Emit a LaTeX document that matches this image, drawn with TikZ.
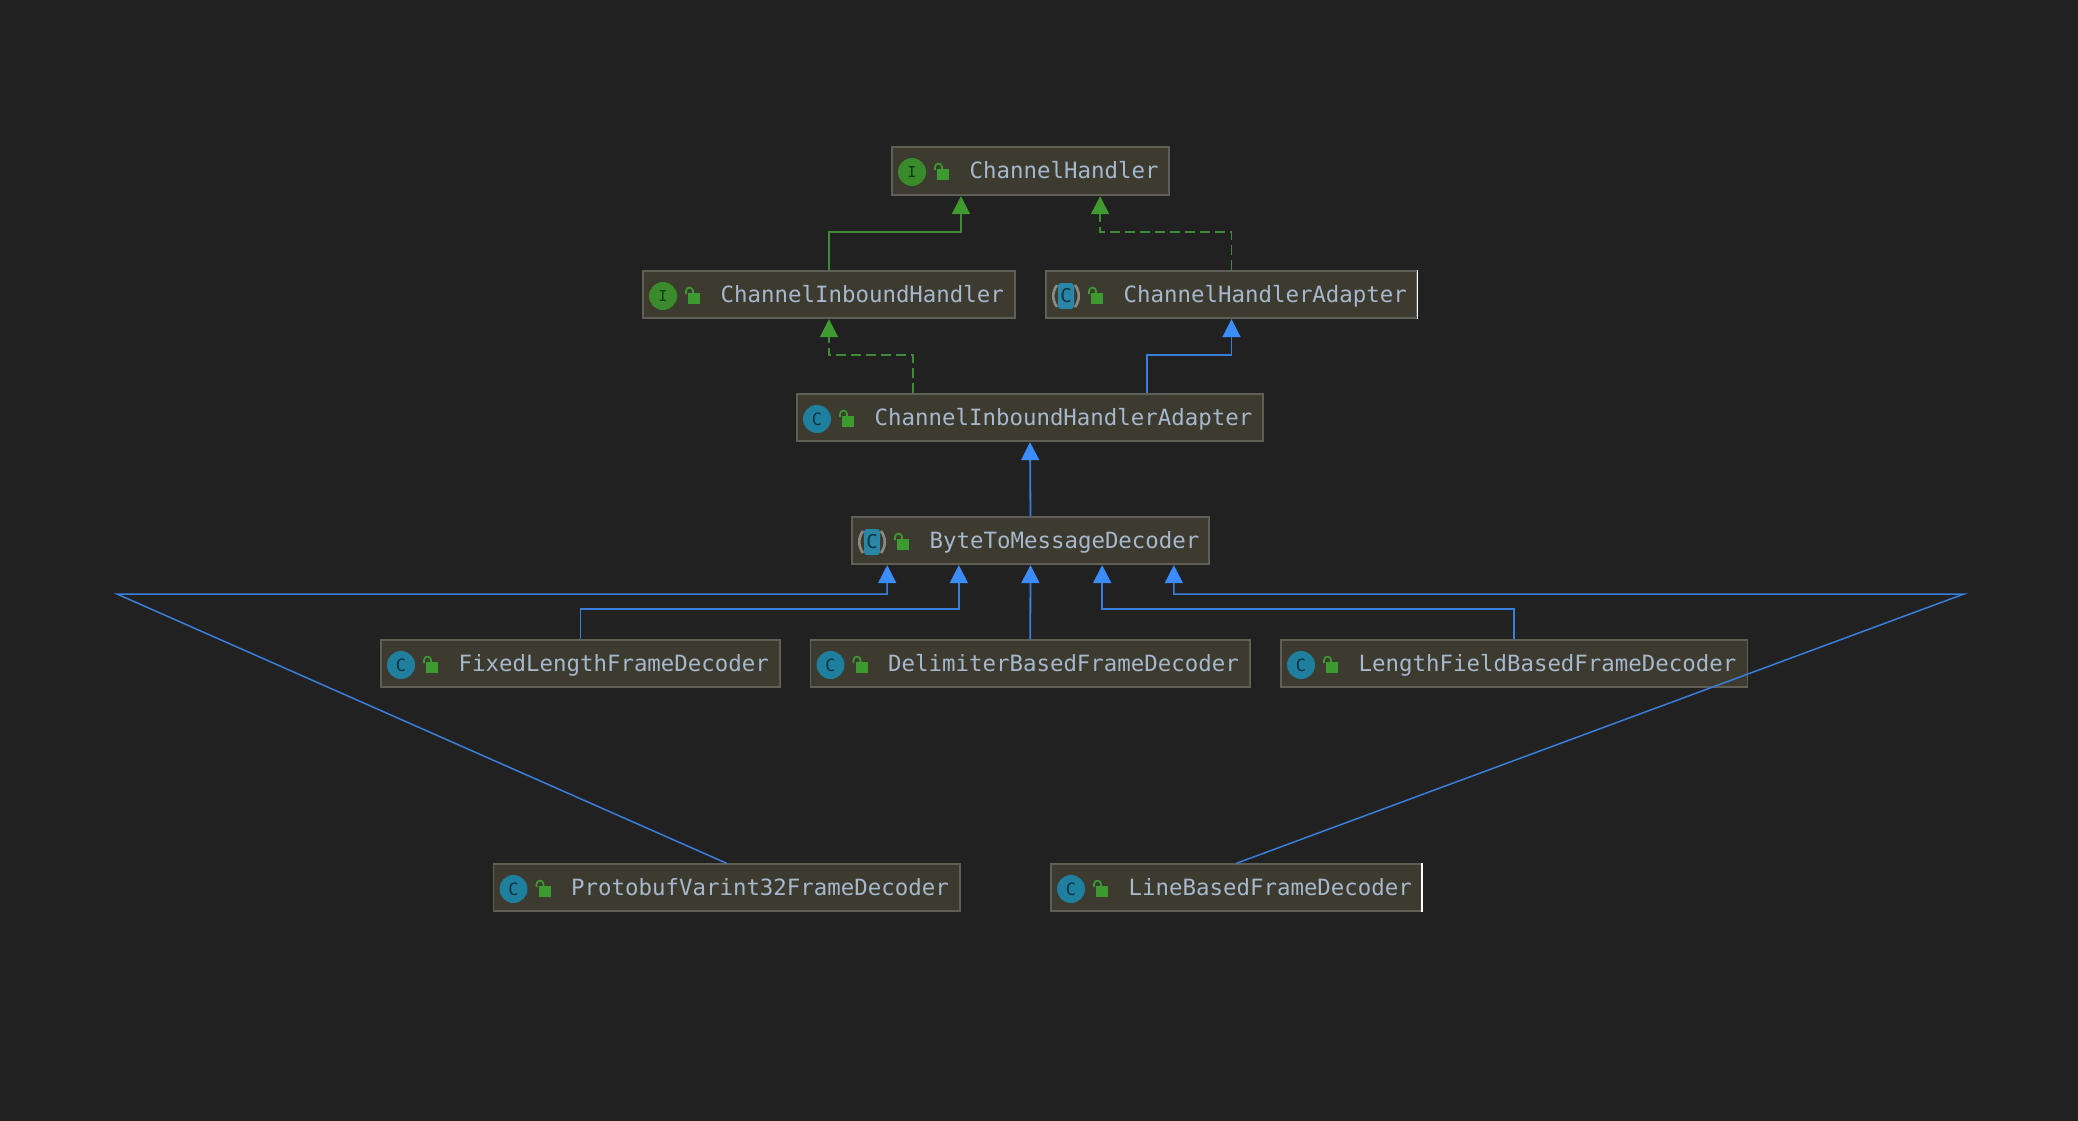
\documentclass[tikz,border=0pt]{standalone}
\usepackage{fontspec}
\setmonofont{DejaVu Sans Mono}
\usetikzlibrary{arrows.meta,calc}
\definecolor{bgc}{HTML}{212121}
\definecolor{boxfill}{HTML}{3D3A30}
\definecolor{boxline}{HTML}{605F56}
\definecolor{txtc}{HTML}{A6B8CC}
\definecolor{greenl}{HTML}{3F8A38}
\definecolor{greena}{HTML}{3F9A30}
\definecolor{bluel}{HTML}{3A7EDC}
\definecolor{bluea}{HTML}{3A8CFF}
\definecolor{tealc}{HTML}{1F7F9F}
\definecolor{tealabs}{HTML}{2A86A6}
\definecolor{lockc}{HTML}{3C9A30}
\definecolor{parenc}{HTML}{8A8A86}
\tikzset{
  classbox/.style={draw=boxline,fill=boxfill,line width=1.3pt,inner sep=0pt,rectangle},
  lbl/.style={font=\ttfamily\fontsize{22.4}{24}\selectfont,text=txtc,inner sep=0pt,anchor=base west},
  gconn/.style={draw=greenl,line width=1.8pt,-{Triangle[length=18pt,width=18pt,color=greena]},shorten >=0.5pt},
  gdash/.style={gconn,dash pattern=on 10pt off 5pt},
  bconn/.style={draw=bluel,line width=1.8pt,-{Triangle[length=18pt,width=18pt,color=bluea]},shorten >=0.5pt},
  whiteedge/.style={draw=white,line width=1.4pt},
  lockp/.pic={
    \fill[lockc] (45,22) rectangle (57,33);
    \draw[lockc,line width=1.7pt] (43,23) -- (43,20) .. controls (43,15.5) and (50,15.5) .. (50,20) -- (50,23);
  },
  iface/.pic={
    \fill[greena!90!black] (20,25) circle[radius=14];
    \node[font=\ttfamily\fontsize{15}{16}\selectfont,text=black!75!green,inner sep=0pt] (t) at (20,25) {I};
  },
  klass/.pic={
    \fill[tealc] (20,25) circle[radius=14];
    \node[font=\ttfamily\fontsize{17}{18}\selectfont,text=black!60!tealc,inner sep=0pt] (t) at (20,25) {C};
  },
  abstr/.pic={
    \draw[parenc,line width=2.6pt] (11,14) .. controls (6,21) and (6,29) .. (11,36);
    \draw[parenc,line width=2.6pt] (29,14) .. controls (34,21) and (34,29) .. (29,36);
    \fill[tealabs,rounded corners=3pt] (12,12) rectangle (28,38);
    \node[font=\ttfamily\fontsize{19}{20}\selectfont,text=black!60!tealc,inner sep=0pt] (t) at (20,25) {C};
  },
}
% name, x1, y1, x2, y2, icon pic, text
\newcommand{\cbox}[7]{%
  \pgfmathsetmacro{\bw}{#4-#2}\pgfmathsetmacro{\bh}{#5-#3}%
  \pgfmathsetmacro{\cx}{(#2+#4)/2}\pgfmathsetmacro{\cy}{(#3+#5)/2}%
  \node[classbox,minimum width=\bw pt,minimum height=\bh pt] (#1) at (\cx,\cy) {};
  \begin{scope}[shift={(#2,#3)}]
    \pic (#1i) {#6};
    \pic (#1k) {lockp};
    \node[lbl] (#1t) at (77.5,31) {#7};
  \end{scope}
}
\begin{document}
\begin{tikzpicture}[x=1pt,y=-1pt]
\useasboundingbox (0,0) rectangle (2078,1120);
\fill[bgc] (-5,-5) rectangle (2083,1125);
\cbox{ch}{892}{147}{1169}{195}{iface}{ChannelHandler}
\cbox{cib}{643}{271}{1015}{318}{iface}{ChannelInboundHandler}
\cbox{cha}{1046}{271}{1417}{318}{abstr}{ChannelHandlerAdapter}
\cbox{ciha}{797}{394}{1263}{441}{klass}{ChannelInboundHandlerAdapter}
\cbox{btm}{852}{517}{1209}{564}{abstr}{ByteToMessageDecoder}
\cbox{fix}{381}{640}{780}{687}{klass}{FixedLengthFrameDecoder}
\cbox{del}{810.5}{640}{1250}{687}{klass}{DelimiterBasedFrameDecoder}
\cbox{len}{1281}{640}{1747.5}{687}{klass}{LengthFieldBasedFrameDecoder}
\cbox{pro}{493.5}{864}{960}{911}{klass}{ProtobufVarint32FrameDecoder}
\cbox{lin}{1051}{864}{1421.5}{911}{klass}{LineBasedFrameDecoder}
\draw[whiteedge] (cha.north east) -- (cha.south east);
\draw[whiteedge] (lin.north east) -- (lin.south east);
% attachment points
\coordinate (chL) at ($(ch.south west)!.25!(ch.south east)$);
\coordinate (chR) at ($(ch.south west)!.75!(ch.south east)$);
\coordinate (cihaL) at ($(ciha.north west)!.25!(ciha.north east)$);
\coordinate (cihaR) at ($(ciha.north west)!.75!(ciha.north east)$);
\coordinate (b1) at ($(btm.south west)!.1!(btm.south east)$);
\coordinate (b2) at ($(btm.south west)!.3!(btm.south east)$);
\coordinate (b3) at ($(btm.south west)!.5!(btm.south east)$);
\coordinate (b4) at ($(btm.south west)!.7!(btm.south east)$);
\coordinate (b5) at ($(btm.south west)!.9!(btm.south east)$);
\coordinate (farL) at (117,594);
\coordinate (farR) at (1964,594);
% connectors
\draw[gconn] (cib.north) -- ++(0,-38) -| (chL);
\draw[gdash] (cha.north) -- ++(0,-38) -| (chR);
\draw[gdash] (cihaL) -- ++(0,-38) -| (cib.south);
\draw[bconn] (cihaR) -- ++(0,-38) -| (cha.south);
\draw[bconn] (btm.north) -- (ciha.south);
\draw[bconn,line width=1.5pt] (pro.north) -- (farL) -- (farL -| b1) -- (b1);
\draw[bconn] (fix.north) -- ++(0,-30) -| (b2);
\draw[bconn] (del.north) -- (b3);
\draw[bconn] (len.north) -- ++(0,-30) -| (b4);
\draw[bconn,line width=1.5pt] (lin.north) -- (farR) -- (farR -| b5) -- (b5);
\end{tikzpicture}
\end{document}
